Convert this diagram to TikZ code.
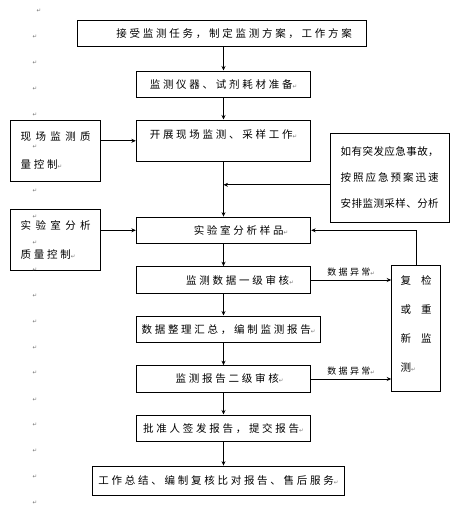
\documentclass[tikz,border=0pt]{standalone}
\usepackage{fontspec}
\setmainfont{Noto Sans CJK SC}[LetterSpace=26]
\newfontfamily\myplaincjk{Noto Sans CJK SC}
\newfontfamily\mymarkfont{DejaVu Sans}
\usetikzlibrary{positioning}
\usetikzlibrary{arrows.meta,calc}
\pgfkeys{tikz/myflowenv/.style={x=1pt,y=-1pt,font=\fontsize{10.5}{12}\selectfont}}
\pgfkeys{tikz/myflowbox/.style={draw,line width=0.9pt,inner sep=0pt,minimum height=26.5pt,align=center}}
\pgfkeys{tikz/myflowarrow/.style={line width=0.9pt,-{Stealth[length=4.5pt,width=4pt]}}}
\pgfkeys{tikz/myflowlabel/.style={inner sep=0pt,font=\fontsize{9}{10}\selectfont}}
\pgfkeys{tikz/mymark/.style={inner sep=0pt}}
\newcommand\mypmark{{\mymarkfont\fontsize{5.5}{6}\selectfont\textcolor{black!55}{↵}}}
\makeatletter
\newcommand\myspreadline[2]{\hbox to #1{\myplaincjk\my@spread#2\relax\unskip}}
\def\my@spread#1{\ifx#1\relax\else#1\hfil\expandafter\my@spread\fi}
\makeatother

\begin{document}
\begin{tikzpicture}[myflowenv]
    \useasboundingbox (0,0) rectangle (462,509);

	\node[myflowbox,minimum width=289pt] (task) at (222.2,33.3) {\hspace{24pt}接受监测任务，制定监测方案，工作方案};
	\node[myflowbox,minimum width=174.4pt,minimum height=26.7pt] (prep) at (223.5,84.3) {监测仪器、试剂耗材准备\mypmark};
	\node[myflowbox,minimum width=174.4pt,text height=18.8pt,text depth=22.9pt] (field) at (223.5,140.8) {开展现场监测、采样工作\mypmark};
	\node[myflowbox,minimum width=174.4pt] (lab) at (223.5,230.3) {\hspace{35pt}实验室分析样品\mypmark};
	\node[myflowbox,minimum width=174.4pt,minimum height=26.7pt] (check1) at (223.5,280) {\hspace{33pt}监测数据一级审核\mypmark};
	\node[myflowbox,minimum width=184.4pt] (report) at (228.5,329.2) {数据整理汇总，编制监测报告\mypmark};
	\node[myflowbox,minimum width=174.4pt,minimum height=26.7pt] (check2) at (223.5,379) {\hspace{12pt}监测报告二级审核\mypmark};
	\node[myflowbox,minimum width=174.4pt,minimum height=26.7pt] (approve) at (223.5,428.3) {批准人签发报告，提交报告\mypmark};
	\node[myflowbox,minimum width=251.6pt,minimum height=29.3pt] (summary) at (218.5,480.7) {工作总结、编制复核比对报告、售后服务\mypmark};

    % side boxes
	\node[myflowbox,minimum width=90pt,minimum height=61.7pt,align=left,font=\fontsize{10.5}{28}\selectfont] (fieldqc) at (55.7,150.8) {\myspreadline{70pt}{现场监测质}\\量控制\mypmark};
	\node[myflowbox,minimum width=90pt,minimum height=60.7pt,align=left,font=\fontsize{10.5}{29.5}\selectfont] (labqc) at (55.7,239.7) {\myspreadline{70pt}{实验室分析}\\质量控制\mypmark};
	\node[myflowbox,minimum width=119.3pt,minimum height=89pt,align=left,font=\fontsize{10.5}{26}\selectfont] (emergency) at (389.7,177.8) {\myspreadline{98pt}{如有突发应急事故，}\\\myspreadline{98pt}{按照应急预案迅速}\\\myspreadline{98pt}{安排监测采样、分析}};
	\node[myflowbox,minimum width=49pt,minimum height=125.3pt,align=left,font=\fontsize{10.5}{29}\selectfont] (recheck) at (416.2,328.3) {\myspreadline{31pt}{复检}\\\myspreadline{31pt}{或重}\\\myspreadline{31pt}{新监}\\测\mypmark\\[-19pt]\mbox{}};

	\draw[myflowarrow] (task.south -| prep.north) -- (prep.north);
	\draw[myflowarrow] (prep.south) -- (field.north);
	\draw[myflowarrow] (field.south) -- (lab.north);
	\draw[myflowarrow] (lab.south) -- (check1.north);
	\draw[myflowarrow] (check1.south) -- (check1.south |- report.north);
	\draw[myflowarrow] (check1.south |- report.south) -- (check2.north);
	\draw[myflowarrow] (check2.south) -- (approve.north);
	\draw[myflowarrow] (approve.south) -- (approve.south |- summary.north);
	\draw[myflowarrow] (fieldqc.east |- field.west) -- (field.west);
	\draw[myflowarrow] (labqc.east |- lab.west) -- (lab.west);
	\draw[myflowarrow] ([yshift=-7pt]emergency.west) -- ([yshift=-7pt]emergency.west -| field.south);
	\draw[myflowarrow] (recheck.north) |- (lab.east);
	\draw[myflowarrow] (check1.east) -- node[myflowlabel,above=3pt] (abnormal1) {数据异常\mypmark} (check1.east -| recheck.west);
	\draw[myflowarrow] (check2.east) -- node[myflowlabel,above=3pt] (abnormal2) {数据异常\mypmark} (check2.east -| recheck.west);

    % paragraph marks in the margin
	\node[mymark] (mark0) at (39,11) {\mypmark};
	\foreach \y [count=\i] in {37,63,89,115,146.5,191,217,243,270,296,322,348,373,400,425,451,477,503}
	  \node[mymark] (mark\i) at (35,\y) {\mypmark};

\end{tikzpicture}
\end{document}
